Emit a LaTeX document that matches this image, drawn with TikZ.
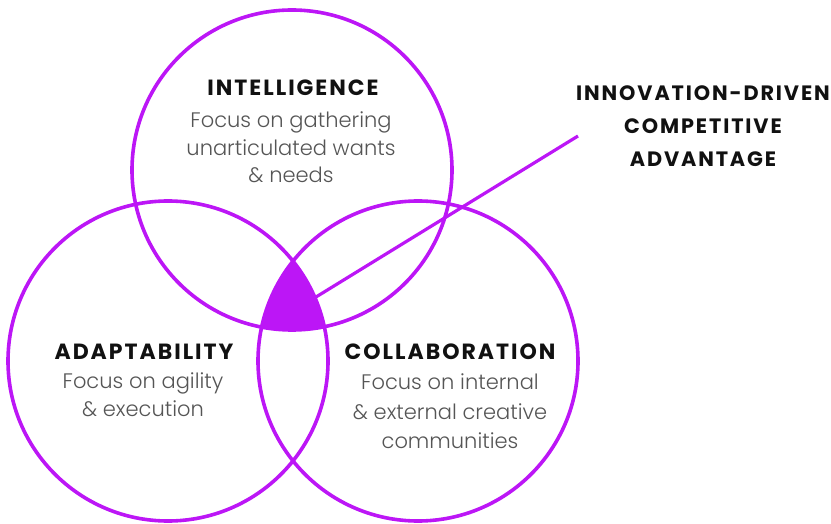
\documentclass[tikz,border=0pt]{standalone}
\usepackage{fontspec}
\setmainfont{Poppins}
\newfontfamily\headfont{Poppins}[LetterSpace=9]
\newfontfamily\bodyfont{Poppins Light}
\definecolor{vpurple}{RGB}{188,22,246}
\definecolor{bodygray}{RGB}{85,85,85}
\definecolor{headblack}{RGB}{17,17,17}
\begin{document}
\begin{tikzpicture}[x=1pt,y=-1pt,
  ring/.style={draw=vpurple,line width=3.6pt},
  headtxt/.style={anchor=base,inner sep=0pt,font=\headfont\bfseries\fontsize{22}{26}\selectfont,text=headblack},
  advtxt/.style={headtxt,font=\headfont\bfseries\fontsize{20.8}{25}\selectfont},
  bodytxt/.style={anchor=base,inner sep=0pt,font=\bodyfont\fontsize{21}{25}\selectfont,text=bodygray},
  pointer/.style={draw=vpurple,line width=3.2pt}]
\useasboundingbox (0,0) rectangle (831,524);
% coordinates of circle centres
\coordinate (ct) at (292,170);
\coordinate (cl) at (168,361);
\coordinate (cr) at (418,361);
% filled common region
\begin{scope}
  \clip (ct) circle (160);
  \clip (cl) circle (160);
  \fill[vpurple] (cr) circle (160);
\end{scope}
\draw[ring] (ct) circle (160);
\draw[ring] (cl) circle (160);
\draw[ring] (cr) circle (160);
% pointer line
\coordinate (core) at (316,297);
\coordinate (tip) at (578,136);
\draw[pointer] (core) -- (tip);
% texts
\node[headtxt] (int) at (293,96) {INTELLIGENCE};
\node[bodytxt] (int1) at (291,128) {Focus on gathering};
\node[bodytxt] (int2) at (291,156) {unarticulated wants};
\node[bodytxt] (int3) at (291,183) {\& needs};
\node[headtxt] (ada) at (144,359) {ADAPTABILITY};
\node[bodytxt] (ada1) at (143,388) {Focus on agility};
\node[bodytxt] (ada2) at (143,416) {\& execution};
\node[headtxt] (col) at (450,359) {COLLABORATION};
\node[bodytxt] (col1) at (450,389) {Focus on internal};
\node[bodytxt] (col2) at (450,419) {\& external creative};
\node[bodytxt] (col3) at (450,448) {communities};
\node[advtxt] (adv1) at (703,101) {INNOVATION-DRIVEN};
\node[advtxt] (adv2) at (703,134) {COMPETITIVE};
\node[advtxt] (adv3) at (703,167) {ADVANTAGE};
\end{tikzpicture}
\end{document}
